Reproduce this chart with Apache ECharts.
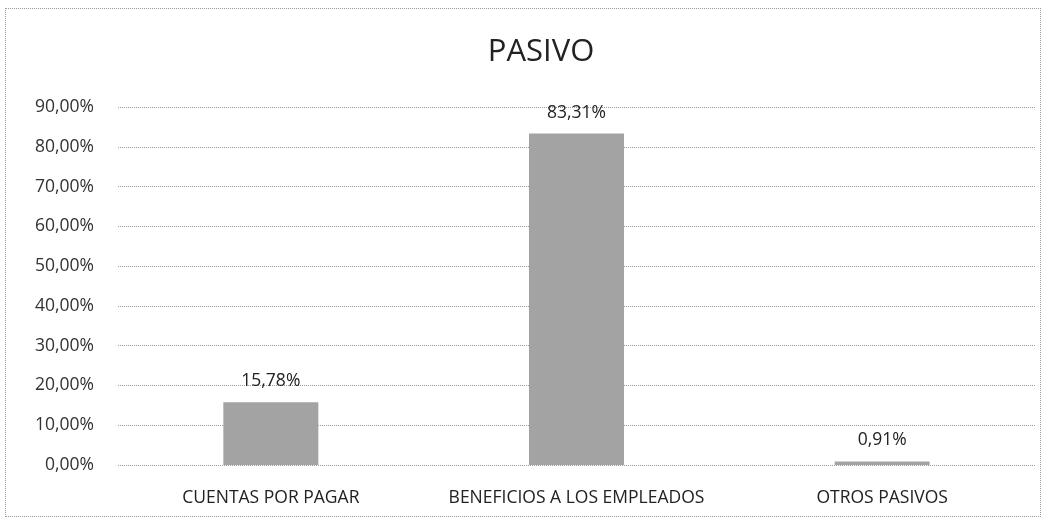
<!DOCTYPE html>
<html>
<head>
<meta charset="utf-8">
<script src="https://cdn.jsdelivr.net/npm/echarts@6/dist/echarts.min.js"></script>
<style>
  html, body { margin: 0; padding: 0; background: #fff; }
  #chart { width: 1050px; height: 524px; }
  #frame { position: absolute; left: 5px; top: 8px; width: 1036px; height: 509px; border: 1px dotted #999; box-sizing: border-box; pointer-events: none; }
</style>
</head>
<body>
<div id="chart"></div>
<div id="frame"></div>
<script>
var categories = ["CUENTAS POR PAGAR", "BENEFICIOS A LOS EMPLEADOS", "OTROS PASIVOS"];
var values = [15.78, 83.31, 0.91];
var yTicks = [0, 10, 20, 30, 40, 50, 60, 70, 80, 90];

function pct(v) {
  return v.toFixed(2).replace(".", ",") + "%";
}

var chart = echarts.init(document.getElementById("chart"));

chart.setOption({
  backgroundColor: "#fff",
  animation: false,
  textStyle: { fontFamily: "'Open Sans', Lato, sans-serif" },
  title: {
    text: "PASIVO",
    left: 536,
    textAlign: "center",
    top: 32,
    textStyle: { fontSize: 31, fontWeight: "normal", color: "#222" }
  },
  grid: { left: 118, right: 15, top: 107, bottom: 59 },
  xAxis: {
    type: "category",
    data: categories,
    axisLine: { show: false },
    axisTick: { show: false },
    axisLabel: { fontSize: 17.5, color: "#222", margin: 24, interval: 0 }
  },
  yAxis: {
    type: "value",
    min: yTicks[0],
    max: yTicks[yTicks.length - 1],
    interval: 10,
    axisLine: { show: false },
    axisTick: { show: false },
    axisLabel: {
      fontSize: 17.5,
      color: "#333",
      margin: 24,
      formatter: function (v) { return pct(v); }
    },
    splitLine: { lineStyle: { type: "dotted", color: "#999", width: 1 } }
  },
  series: [{
    type: "bar",
    data: values,
    barWidth: 95,
    itemStyle: { color: "#a3a3a3" },
    label: {
      show: true,
      position: "top",
      distance: 12,
      fontSize: 17.5,
      color: "#222",
      formatter: function (p) { return pct(p.value); }
    }
  }]
});
</script>
</body>
</html>
